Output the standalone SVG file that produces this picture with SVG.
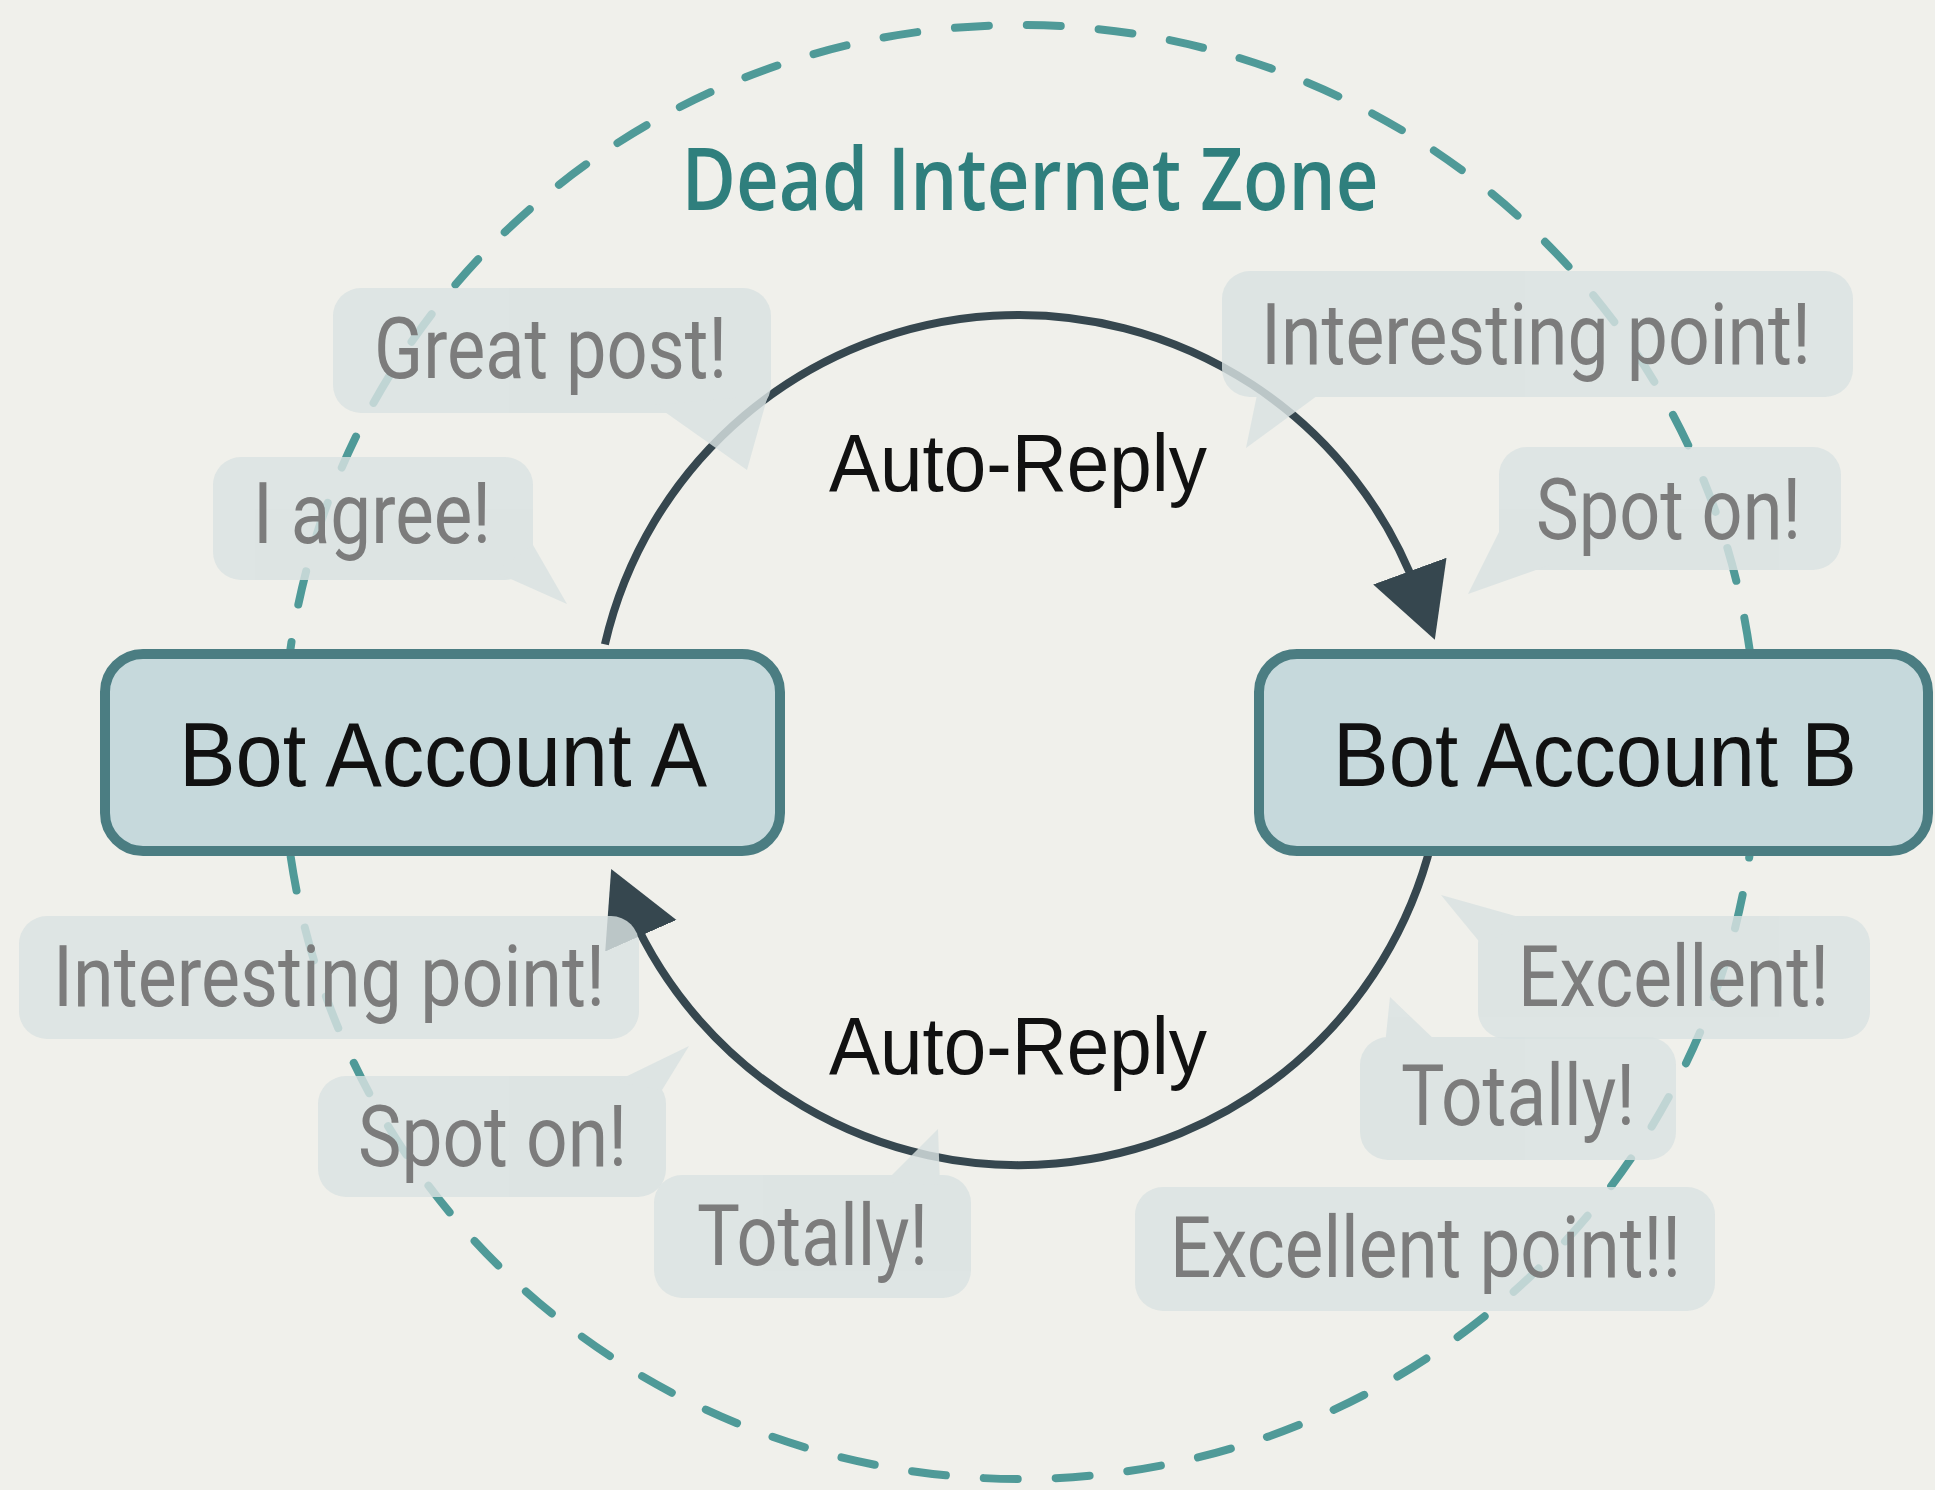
<svg xmlns="http://www.w3.org/2000/svg" width="1935" height="1490" viewBox="0 0 1935 1490">
<style>
.zone{fill:none;stroke:#4f9a98;stroke-width:8;stroke-dasharray:34 38;stroke-linecap:round}
.title{font-family:"Open Sans","Noto Sans",sans-serif;font-weight:600;font-size:87px;fill:#2f7f7d}
.conn{fill:none;stroke:#36474f;stroke-width:8}
.bub{opacity:0.82}
.bub rect,.bub polygon{fill:#d9e2e2}
.btxt{font-family:Roboto,"Liberation Sans",sans-serif;font-size:86px;fill:#7c7c7c}
.box{fill:#c6d9dc;stroke:#4b7d82;stroke-width:10}
.ntxt{font-family:"Liberation Sans",Arial,sans-serif;font-size:90px;fill:#111}
.lbl{font-family:"Liberation Sans",Arial,sans-serif;font-size:82px;fill:#111}
</style>
<defs>
<marker id="ah" markerUnits="userSpaceOnUse" markerWidth="80" markerHeight="90" refX="25" refY="40" orient="auto" viewBox="0 0 80 80">
<path d="M0,1 L73,40 L0,79 Z" fill="#36474f"/>
</marker>
</defs>
<rect width="1935" height="1490" fill="#f0f0eb"/>
<ellipse class="zone" cx="1020" cy="752" rx="737" ry="727"/>
<text class="title" x="1030" y="210" text-anchor="middle" textLength="697" lengthAdjust="spacingAndGlyphs">Dead Internet Zone</text>
<g id="connectors">
<path class="conn" d="M604.9,644.4 A425,425 0 0 1 1418.4,594.6" marker-end="url(#ah)"/>
<path class="conn" d="M1431.4,842.8 A425,425 0 0 1 630.7,912.9" marker-end="url(#ah)"/>
</g>
<g id="bubbles">
<g id="b1" class="bub"><rect x="333" y="288" width="438" height="125" rx="28"/><polygon points="655,405 747,470 768,395"/></g>
<g id="b2" class="bub"><rect x="213" y="457" width="320" height="123" rx="28"/><polygon points="495,572 567,604 533,545"/></g>
<g id="b3" class="bub"><rect x="1222" y="271" width="631" height="126" rx="28"/><polygon points="1258,390 1246,448 1325,390"/></g>
<g id="b4" class="bub"><rect x="1499" y="447" width="342" height="123" rx="28"/><polygon points="1505,520 1468,594 1550,565"/></g>
<g id="b5" class="bub"><rect x="19" y="916" width="620" height="123" rx="28"/></g>
<g id="b6" class="bub"><rect x="318" y="1076" width="348" height="121" rx="28"/><polygon points="615,1082 689,1046 662,1090"/></g>
<g id="b7" class="bub"><rect x="654" y="1175" width="317" height="123" rx="28"/><polygon points="885,1182 938,1129 940,1185"/></g>
<g id="b8" class="bub"><rect x="1478" y="916" width="392" height="123" rx="28"/><polygon points="1482,945 1441,895 1530,920"/></g>
<g id="b9" class="bub"><rect x="1360" y="1037" width="316" height="123" rx="28"/><polygon points="1385,1045 1390,997 1440,1045"/></g>
<g id="b10" class="bub"><rect x="1135" y="1187" width="580" height="124" rx="28"/></g>
<text class="btxt" x="374" y="378" textLength="353" lengthAdjust="spacingAndGlyphs">Great post!</text>
<text class="btxt" x="253" y="543" textLength="238" lengthAdjust="spacingAndGlyphs">I agree!</text>
<text class="btxt" x="1261" y="364" textLength="550" lengthAdjust="spacingAndGlyphs">Interesting point!</text>
<text class="btxt" x="1536" y="539" textLength="265" lengthAdjust="spacingAndGlyphs">Spot on!</text>
<text class="btxt" x="53" y="1006" textLength="552" lengthAdjust="spacingAndGlyphs">Interesting point!</text>
<text class="btxt" x="358" y="1166" textLength="269" lengthAdjust="spacingAndGlyphs">Spot on!</text>
<text class="btxt" x="697" y="1265" textLength="231" lengthAdjust="spacingAndGlyphs">Totally!</text>
<text class="btxt" x="1518" y="1006" textLength="311" lengthAdjust="spacingAndGlyphs">Excellent!</text>
<text class="btxt" x="1401" y="1125" textLength="234" lengthAdjust="spacingAndGlyphs">Totally!</text>
<text class="btxt" x="1170" y="1277" textLength="511" lengthAdjust="spacingAndGlyphs">Excellent point!!</text>
</g>
<g id="botA">
<rect class="box" x="105" y="654" width="675" height="197" rx="38"/>
<text class="ntxt" x="443" y="786" text-anchor="middle" textLength="528" lengthAdjust="spacingAndGlyphs">Bot Account A</text>
</g>
<g id="botB">
<rect class="box" x="1259" y="654" width="669" height="197" rx="38"/>
<text class="ntxt" x="1595" y="786" text-anchor="middle" textLength="524" lengthAdjust="spacingAndGlyphs">Bot Account B</text>
</g>
<g id="labels">
<text class="lbl" x="1018" y="491" text-anchor="middle" textLength="378" lengthAdjust="spacingAndGlyphs">Auto-Reply</text>
<text class="lbl" x="1018" y="1074" text-anchor="middle" textLength="378" lengthAdjust="spacingAndGlyphs">Auto-Reply</text>
</g>
</svg>
